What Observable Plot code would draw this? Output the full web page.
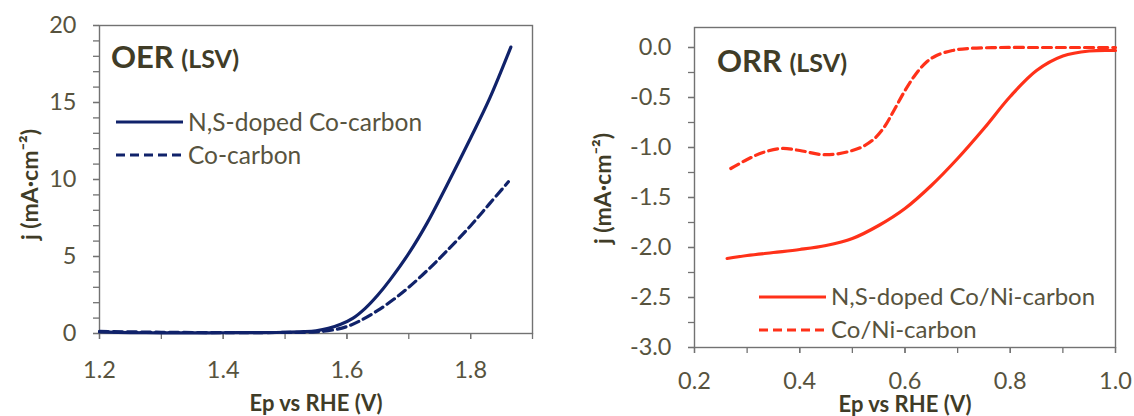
<!DOCTYPE html>
<html><head><meta charset="utf-8">
<script src="https://cdn.jsdelivr.net/npm/d3@7"></script>
<script src="https://cdn.jsdelivr.net/npm/@observablehq/plot@0.6"></script>
<style>
html,body{margin:0;padding:0;background:#fff;}
#wrap{position:relative;width:1134px;height:416px;overflow:hidden;}
#wrap svg{position:absolute;top:0;}
</style></head>
<body><div id="wrap"></div>
<script>
// ---- OER (left) ----
const oerNSV = [1.20,1.25,1.30,1.35,1.40,1.45,1.50,1.53,1.55,1.57,1.59,1.61,1.63,1.65,1.67,1.70,1.73,1.76,1.80,1.83,1.865];
const oerNSJ = [0.10,0.06,0.04,0.04,0.05,0.06,0.08,0.12,0.18,0.33,0.6,1.0,1.65,2.5,3.5,5.2,7.2,9.5,12.7,15.2,18.6];
const oerCoV = [1.20,1.30,1.40,1.50,1.55,1.58,1.60,1.62,1.65,1.68,1.70,1.73,1.76,1.80,1.83,1.861];
const oerCoJ = [0.14,0.08,0.06,0.07,0.10,0.25,0.45,0.8,1.5,2.35,3.0,4.1,5.3,7.0,8.4,9.85];
const oerXMajor = [1.2,1.4,1.6,1.8];
const oerXMinor = [1.2,1.3,1.4,1.5,1.6,1.7,1.8,1.9];
const oerYMajor = [0,5,10,15,20];
const oerYMinor = d3.range(0,21,1);
const oerLegend = ["N,S-doped Co-carbon","Co-carbon"];

// ---- ORR (right) ----
const orrNSV = [0.262,0.30,0.35,0.40,0.45,0.50,0.55,0.60,0.65,0.70,0.75,0.80,0.85,0.90,0.95,1.00];
const orrNSJ = [-2.11,-2.08,-2.05,-2.02,-1.98,-1.91,-1.78,-1.61,-1.38,-1.11,-0.81,-0.49,-0.23,-0.085,-0.035,-0.03];
const orrCoV = [0.269,0.30,0.33,0.365,0.40,0.44,0.47,0.50,0.52,0.54,0.56,0.58,0.60,0.62,0.64,0.66,0.69,0.72,0.78,0.85,0.92,1.00];
const orrCoJ = [-1.21,-1.12,-1.05,-1.01,-1.03,-1.07,-1.065,-1.03,-0.99,-0.92,-0.80,-0.62,-0.43,-0.27,-0.15,-0.08,-0.03,-0.01,0.0,0.0,0.0,0.0];
const orrXMajor = [0.2,0.4,0.6,0.8,1.0];
const orrXMinor = [0.2,0.3,0.4,0.5,0.6,0.7,0.8,0.9,1.0];
const orrYMajor = [0,-0.5,-1,-1.5,-2,-2.5,-3];
const orrYMinor = d3.range(0,13,1).map(i => -i*0.25);
const orrLegend = ["N,S-doped Co/Ni-carbon","Co/Ni-carbon"];

const NAVY = "#10226a", RED = "#ff3119";
const TICKTXT = "#57533e", TITLE = "#403c27", AXC = "#727272";
const FONT = "Lato, 'Noto Sans', sans-serif";

const rows = (xs, ys) => xs.map((x,i) => ({x, y: ys[i]}));
const fmt = d => d.toFixed(1);

function chart(o) {
  const p = Plot.plot({
    width: o.width, height: 416,
    marginLeft: o.ml, marginRight: o.mr, marginTop: o.mt, marginBottom: o.mb,
    style: {fontFamily: FONT, fontSize: "23px", color: TICKTXT, background: "transparent", overflow: "visible"},
    x: {domain: o.xd}, y: {domain: o.yd},
    marks: [
      Plot.axisX({ticks: o.xMinor, tickSize: 6, text: null, label: null, stroke: AXC, strokeWidth: 1.3}),
      Plot.axisX({ticks: o.xMajor, tickSize: 6, tickPadding: o.xpad, tickFormat: fmt, label: null, stroke: AXC, strokeWidth: 1.3, fill: TICKTXT, fontSize: 23.5}),
      Plot.axisY({ticks: o.yMinor, tickSize: 6, text: null, label: null, stroke: AXC, strokeWidth: 1.3}),
      Plot.axisY({ticks: o.yMajor, tickSize: 6, tickPadding: 17, tickFormat: o.yfmt, label: null, stroke: AXC, strokeWidth: 1.3, fill: TICKTXT, fontSize: 23.5}),
      Plot.frame({stroke: AXC, strokeWidth: 1.4}),
      Plot.line(rows(o.sV, o.sJ), {x: "x", y: "y", stroke: o.color, strokeWidth: 3.2, curve: "catmull-rom"}),
      Plot.line(rows(o.dV, o.dJ), {x: "x", y: "y", stroke: o.color, strokeWidth: 3.2, strokeDasharray: "9,5", curve: "catmull-rom"}),
      Plot.text(["Ep vs RHE (V)"], {frameAnchor: "bottom", lineAnchor: "bottom", dy: o.xtdy, fill: TITLE, fontWeight: "bold", fontSize: 22}),
      Plot.text(["j (mA·cm⁻²)"], {frameAnchor: "left", rotate: -90, dx: o.ytdx, dy: o.ytdy, fill: TITLE, fontWeight: "bold", fontSize: 23, textAnchor: "middle"})
    ]
  });
  p.style.left = o.left + "px";
  const svg = d3.select(p);
  // panel title
  const t = svg.append("text").attr("x", o.tx).attr("y", o.ty).attr("text-anchor", "start")
    .attr("fill", TITLE).attr("font-family", FONT).attr("font-weight", "bold");
  t.append("tspan").attr("font-size", 31).text(o.title + " ");
  t.append("tspan").attr("font-size", 25).text("(LSV)");
  // legend
  o.legend.forEach((lab, i) => {
    const y = o.ly + i * o.lstep;
    svg.append("line").attr("x1", o.lx).attr("x2", o.lx + 67).attr("y1", y).attr("y2", y)
      .attr("stroke", o.color).attr("stroke-width", 3.2)
      .attr("stroke-dasharray", i === 1 ? "9,5" : null);
    svg.append("text").attr("x", o.lx + 72).attr("y", y).attr("dy", "0.35em").attr("text-anchor", "start")
      .attr("fill", TICKTXT).attr("font-family", FONT).attr("font-size", o.lfs).text(lab);
  });
  document.getElementById("wrap").appendChild(p);
}

chart({
  left: 0, width: 567, ml: 99, mr: 35, mt: 25, mb: 83,
  xd: [1.2, 1.9], yd: [0, 20], xMajor: oerXMajor, xMinor: oerXMinor,
  yMajor: oerYMajor, yMinor: oerYMinor, yfmt: d => String(d), xpad: 22,
  sV: oerNSV, sJ: oerNSJ, dV: oerCoV, dJ: oerCoJ, color: NAVY,
  xtdy: 77, ytdx: -69, ytdy: 5,
  title: "OER", tx: 111, ty: 68,
  legend: oerLegend, lx: 116, ly: 122, lstep: 33, lfs: 24.5
});

chart({
  left: 567, width: 567, ml: 127, mr: 19, mt: 27, mb: 69,
  xd: [0.2, 1.0], yd: [-3, 0.2], xMajor: orrXMajor, xMinor: orrXMinor,
  yMajor: orrYMajor, yMinor: orrYMinor, yfmt: fmt, xpad: 19,
  sV: orrNSV, sJ: orrNSJ, dV: orrCoV, dJ: orrCoJ, color: RED,
  xtdy: 64, ytdx: -91, ytdy: 1,
  title: "ORR", tx: 150, ty: 72,
  legend: orrLegend, lx: 192, ly: 297, lstep: 33, lfs: 24
});
</script></body></html>
